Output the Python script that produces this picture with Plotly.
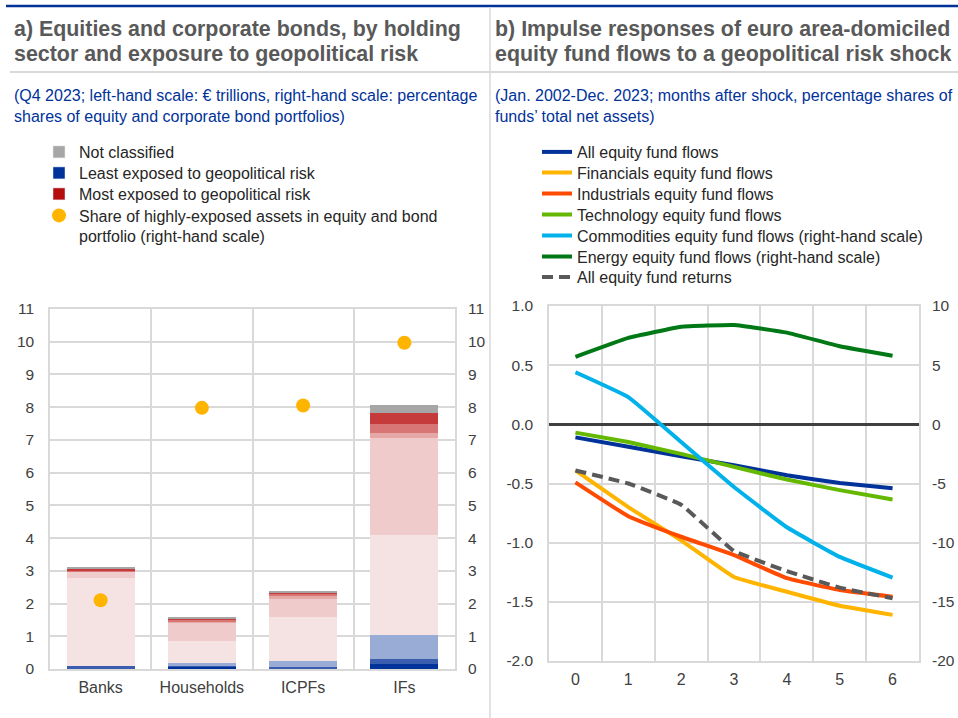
import plotly.graph_objects as go

W, H = 958, 718


def px(x):
    return x / W


def py(y):
    return 1 - y / H


FONT = "Arial, Liberation Sans, sans-serif"

# ---------------- Panel a) data ----------------
sectors = ["Banks", "Households", "ICPFs", "IFs"]
least_dark = [0.03, 0.08, 0.03, 0.15]
least_mid = [0.05, 0.03, 0.02, 0.15]
least_light = [0.00, 0.06, 0.20, 0.75]
most_q1 = [2.69, 0.69, 1.35, 3.05]
most_q2 = [0.20, 0.56, 0.55, 2.95]
most_q3 = [0.00, 0.04, 0.07, 0.17]
most_q4 = [0.03, 0.04, 0.08, 0.26]
most_q5 = [0.05, 0.04, 0.05, 0.35]
not_classified = [0.08, 0.03, 0.03, 0.23]
share_high = [2.1, 7.98, 8.05, 9.97]
left_ticks = list(range(0, 12))

# ---------------- Panel b) data ----------------
months = ["0", "1", "2", "3", "4", "5", "6"]
all_flows = [-0.11, -0.19, -0.27, -0.345, -0.43, -0.495, -0.54]
fin_flows = [-0.39, -0.70, -0.98, -1.29, -1.415, -1.533, -1.61]
ind_flows = [-0.49, -0.776, -0.95, -1.105, -1.30, -1.40, -1.457]
tech_flows = [-0.07, -0.15, -0.25, -0.36, -0.466, -0.556, -0.635]
comm_flows = [4.4, 2.3, -1.5, -5.3, -8.7, -11.2, -12.95]
energy_flows = [5.7, 7.3, 8.25, 8.4, 7.75, 6.6, 5.8]
all_returns = [-0.39, -0.50, -0.68, -1.07, -1.24, -1.38, -1.47]
b_left_vals = [-2.0, -1.5, -1.0, -0.5, 0.0, 0.5, 1.0]
b_left_text = ["-2.0", "-1.5", "-1.0", "-0.5", "0.0", "0.5", "1.0"]
b_right_vals = [-20, -15, -10, -5, 0, 5, 10]
b_right_text = ["-20", "-15", "-10", "-5", "0", "5", "10"]

fig = go.Figure()

# stacked bar segments (bottom to top)
segments = [
    (least_dark, "#003299"),
    (least_mid, "#3a5db0"),
    (least_light, "#98acd6"),
    (most_q1, "#f5e3e3"),
    (most_q2, "#efcbcb"),
    (most_q3, "#e6a7a7"),
    (most_q4, "#d87575"),
    (most_q5, "#c53a3a"),
    (not_classified, "#a6a6a6"),
]
for vals, col in segments:
    fig.add_trace(go.Bar(x=sectors, y=vals, marker=dict(color=col, line=dict(width=0)),
                         width=0.67, showlegend=False, xaxis="x", yaxis="y",
                         hoverinfo="skip"))

LEG_FONT = dict(family=FONT, size=16, color="#262626")
legends = {}


def add_legend(key, text_x, center_y, valign="middle"):
    legends[key] = dict(x=px(text_x - 40), y=py(center_y), xanchor="left", yanchor="middle",
                        font=LEG_FONT, bgcolor="rgba(0,0,0,0)", borderwidth=0,
                        itemwidth=30, itemclick=False, itemdoubleclick=False, valign=valign)


# legend entries for panel a (one legend box per entry, to match spacing)
a_entries = [("Not classified", "#a6a6a6", 152),
             ("Least exposed to geopolitical risk", "#003299", 173),
             ("Most exposed to geopolitical risk", "#b50e0e", 194)]
for i, (name, col, cy) in enumerate(a_entries):
    key = "legend" if i == 0 else f"legend{i + 1}"
    add_legend(key, 79, cy)
    fig.add_trace(go.Bar(x=[None], y=[None], name=name, marker=dict(color=col),
                         xaxis="x", yaxis="y", legend=key))

add_legend("legend4", 79, 226, valign="top")
fig.add_trace(go.Scatter(x=sectors, y=share_high, mode="markers",
                         name="Share of highly-exposed assets in equity and bond<br>portfolio (right-hand scale)",
                         marker=dict(color="#ffb400", size=14),
                         xaxis="x", yaxis="y2", legend="legend4"))

# ---------------- Panel b traces ----------------
lw = 4
sm = 0.3
line_specs = [
    ("All equity fund flows", all_flows, "#003299", "y3", "solid", 152),
    ("Financials equity fund flows", fin_flows, "#ffb400", "y3", "solid", 172.5),
    ("Industrials equity fund flows", ind_flows, "#ff4b00", "y3", "solid", 193.5),
    ("Technology equity fund flows", tech_flows, "#65b800", "y3", "solid", 214.5),
    ("Commodities equity fund flows (right-hand scale)", comm_flows, "#00b1ea", "y4", "solid", 235.5),
    ("Energy equity fund flows (right-hand scale)", energy_flows, "#007816", "y4", "solid", 256.5),
    ("All equity fund returns", all_returns, "#595959", "y3", "11px,6px", 277),
]
for j, (name, vals, col, yax, dash, cy) in enumerate(line_specs):
    key = f"legend{5 + j}"
    add_legend(key, 577, cy)
    fig.add_trace(go.Scatter(x=months, y=vals, mode="lines", name=name,
                             line=dict(color=col, width=lw, dash=dash, shape="spline", smoothing=sm),
                             xaxis="x2", yaxis=yax, legend=key))

grid = "#d9d9d9"
tickfont = dict(family=FONT, size=15.5, color="#404040")
xtickfont = dict(family=FONT, size=16, color="#404040")

fig.update_layout(
    width=W, height=H,
    margin=dict(l=0, r=0, t=0, b=0, autoexpand=False),
    paper_bgcolor="white", plot_bgcolor="white",
    barmode="stack", bargap=0.33,
    font=dict(family=FONT, size=15, color="#262626"),
    xaxis=dict(domain=[px(50), px(455)], type="category", tickson="boundaries",
               range=[-0.5, 3.5],
               showgrid=True, gridcolor=grid, gridwidth=1.5, showline=True, linecolor=grid,
               linewidth=1.5, mirror=True, ticks="", tickfont=xtickfont, ticklabelstandoff=3,
               automargin=False),
    yaxis=dict(domain=[py(669), py(309)], range=[0, 11], tickvals=left_ticks,
               showgrid=True, gridcolor=grid, gridwidth=1.5, zeroline=False,
               showline=True, linecolor=grid, linewidth=1.5, mirror=True,
               ticks="", tickfont=tickfont, ticklabelstandoff=11, automargin=False),
    yaxis2=dict(overlaying="y", side="right", anchor="x", range=[0, 11], tickvals=left_ticks,
                showgrid=False, zeroline=False, ticks="", tickfont=tickfont, ticklabelstandoff=12,
                automargin=False),
    xaxis2=dict(domain=[px(549), px(919)], anchor="y3", type="category", tickson="boundaries",
                range=[-0.5, 6.5],
                showgrid=True, gridcolor=grid, gridwidth=1.5, showline=True, linecolor=grid,
                linewidth=1.5, mirror=True, ticks="", tickfont=xtickfont, ticklabelstandoff=3,
                automargin=False),
    yaxis3=dict(domain=[py(661), py(306)], anchor="x2", range=[-2, 1],
                tickvals=b_left_vals, ticktext=b_left_text,
                showgrid=True, gridcolor=grid, gridwidth=1.5,
                zeroline=True, zerolinecolor="#404040", zerolinewidth=2.5,
                showline=True, linecolor=grid, linewidth=1.5, mirror=True,
                ticks="", tickfont=tickfont, ticklabelstandoff=11, automargin=False),
    yaxis4=dict(overlaying="y3", side="right", anchor="x2", range=[-20, 10],
                tickvals=b_right_vals, ticktext=b_right_text,
                showgrid=False, zeroline=False, ticks="", tickfont=tickfont, ticklabelstandoff=12,
                automargin=False),
    showlegend=True,
    **legends,
)

TITLE_FONT = dict(family=FONT, size=21.4, color="#595959")
SUB_FONT = dict(family=FONT, size=16, color="#003299")
text_lines = [
    (13, 29, "<b>a) Equities and corporate bonds, by holding</b>", TITLE_FONT),
    (13, 54, "<b>sector and exposure to geopolitical risk</b>", TITLE_FONT),
    (494, 29, "<b>b) Impulse responses of euro area-domiciled</b>", TITLE_FONT),
    (494, 54, "<b>equity fund flows to a geopolitical risk shock</b>", TITLE_FONT),
    (13, 95, "(Q4 2023; left-hand scale: € trillions, right-hand scale: percentage", SUB_FONT),
    (13, 116, "shares of equity and corporate bond portfolios)", SUB_FONT),
    (494, 95, "(Jan. 2002-Dec. 2023; months after shock, percentage shares of", SUB_FONT),
    (494, 116, "funds’ total net assets)", SUB_FONT),
]
for x0, yc, txt, fnt in text_lines:
    fig.add_annotation(x=px(x0), y=py(yc), xref="paper", yref="paper", xanchor="left",
                       yanchor="middle", align="left", showarrow=False, text=txt, font=fnt,
                       borderpad=0)

# decorative lines
fig.add_shape(type="line", xref="paper", yref="paper", x0=px(6), x1=1, y0=py(6), y1=py(6),
              line=dict(color="#003299", width=2.5))
fig.add_shape(type="line", xref="paper", yref="paper", x0=px(490), x1=px(490), y0=py(7), y1=0,
              line=dict(color=grid, width=1.5))
fig.add_shape(type="line", xref="paper", yref="paper", x0=px(10), x1=1, y0=py(72), y1=py(72),
              line=dict(color=grid, width=2))

fig.write_html("out.html", config={"displayModeBar": False},
               post_script="document.body.style.margin='0px';")
